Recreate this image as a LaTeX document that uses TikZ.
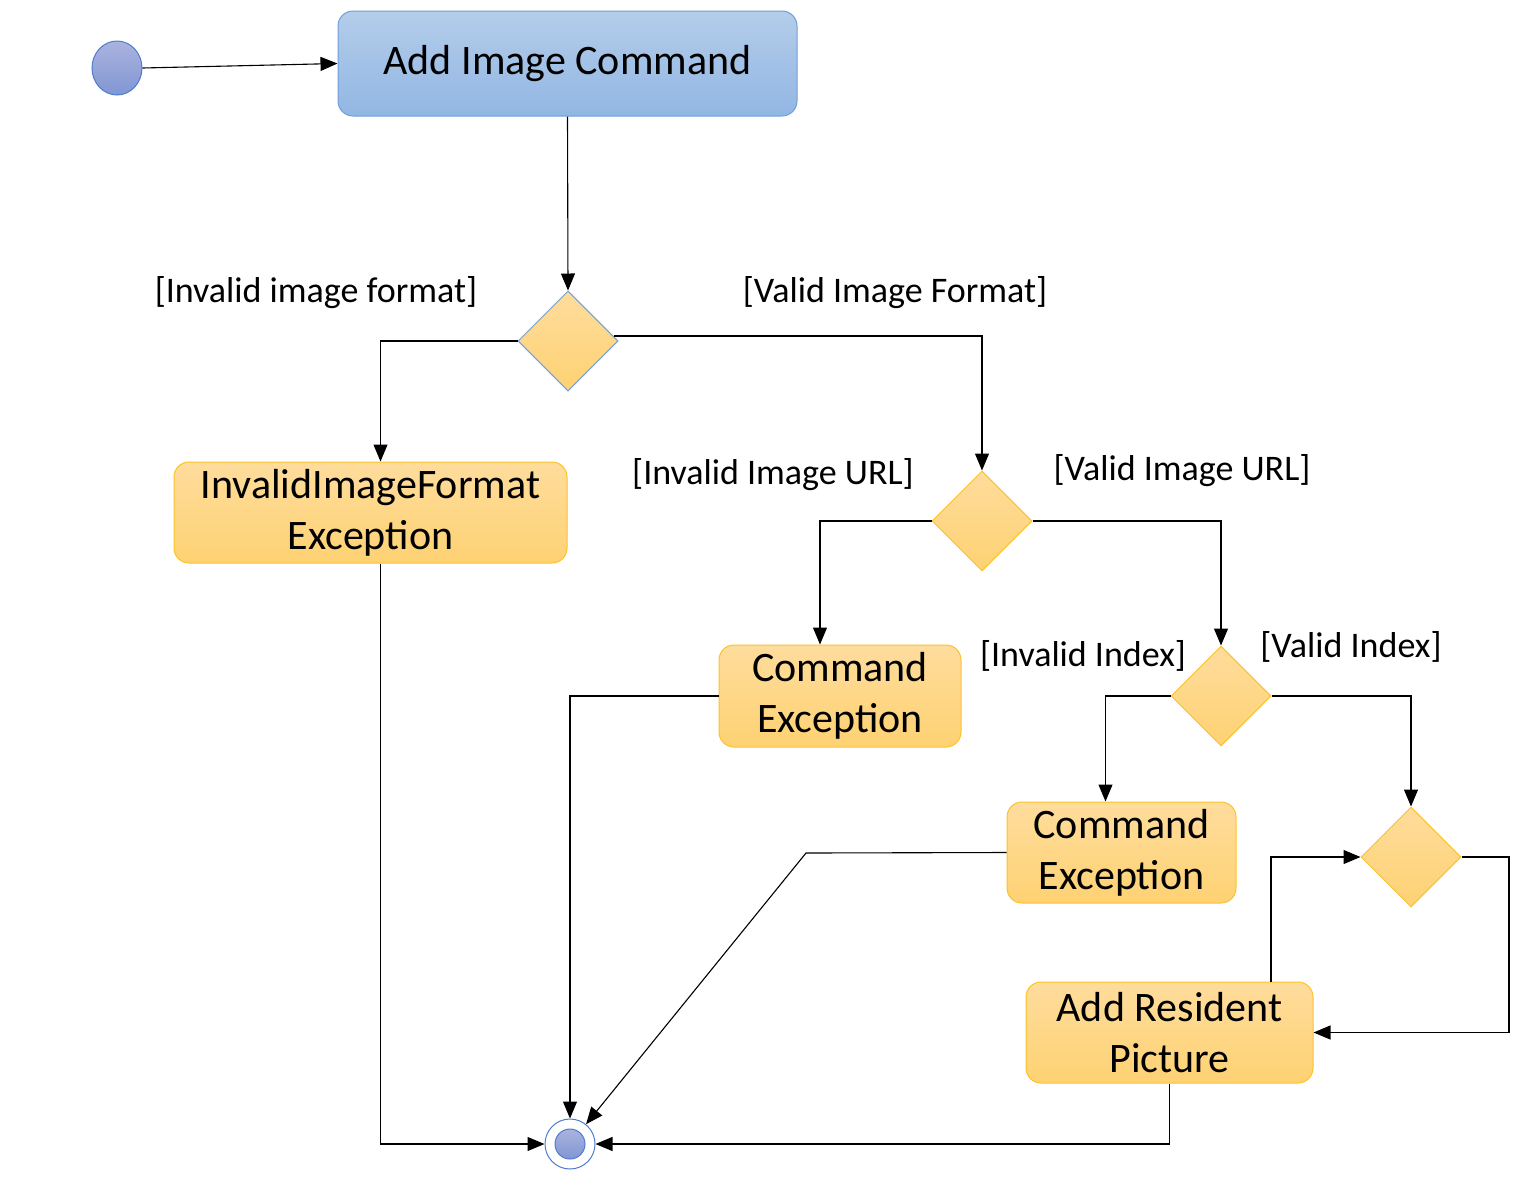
\documentclass[tikz,border=0pt]{standalone}
\usepackage{fontspec}
\setmainfont{Carlito}
\usetikzlibrary{shapes.geometric,arrows.meta,calc}
\definecolor{bluetop}{HTML}{B4CDEA}
\definecolor{bluebot}{HTML}{92B6E3}
\definecolor{blueedge}{HTML}{6FA0DC}
\definecolor{ortop}{HTML}{FEDC9C}
\definecolor{orbot}{HTML}{FED273}
\definecolor{oredge}{HTML}{FCC22A}
\definecolor{ctop}{HTML}{AAB3DE}
\definecolor{cbot}{HTML}{8196D3}
\definecolor{cedge}{HTML}{4F7CCF}
\tikzset{
  conn/.style={line width=1.1pt, draw=black},
  arr/.style={conn, -{Triangle[length=17pt,width=14pt]}},
  bluebox/.style={rectangle, rounded corners=15pt, draw=blueedge, line width=1pt,
    top color=bluetop, bottom color=bluebot, align=center, inner sep=0pt,
    font=\fontsize{42}{51}\selectfont},
  orbox/.style={rectangle, rounded corners=15pt, draw=oredge, line width=1pt,
    top color=ortop, bottom color=orbot, align=center, inner sep=0pt,
    font=\fontsize{42}{51}\selectfont},
  decision/.style={diamond, draw=oredge, line width=1pt, top color=ortop, bottom color=orbot,
    minimum width=100pt, minimum height=100pt, inner sep=0pt},
  guard/.style={font=\fontsize{36}{43}\selectfont, inner sep=0pt},
}
\begin{document}
\begin{tikzpicture}[x=1pt,y=-1pt]
\useasboundingbox (0,0) rectangle (1536,1184);
% start
\node[ellipse, draw=cedge, line width=1pt, top color=ctop, bottom color=cbot,
  minimum width=50pt, minimum height=54pt, inner sep=0pt] (start) at (117,68) {};
% activities
\node[bluebox, minimum width=459pt, minimum height=105pt] (cmd) at (567.5,63.5) {Add Image Command};
\node[orbox, minimum width=393pt, minimum height=101pt] (iif) at (370.5,512.5) {InvalidImageFormat\\Exception};
\node[orbox, minimum width=242pt, minimum height=102pt] (ce1) at (840,696) {Command\\Exception};
\node[orbox, minimum width=229pt, minimum height=101pt] (ce2) at (1121.5,852.5) {Command\\Exception};
\node[orbox, minimum width=287pt, minimum height=101pt] (arp) at (1169.5,1032.5) {Add Resident\\Picture};
% decisions
\node[decision, draw=blueedge] (d1) at (568,341) {};
\node[decision] (d2) at (982,521) {};
\node[decision] (d3) at (1221,696) {};
\node[decision] (d4) at (1411,857) {};
% end
\node[circle, draw=cedge, fill=white, line width=1pt, minimum size=50pt, inner sep=0pt] (endc) at (570,1144) {};
\node[circle, draw=cedge, line width=1pt, top color=ctop, bottom color=cbot, minimum size=30pt, inner sep=0pt] (endin) at (570,1144) {};
% guards
\node[guard] (g1) at (316,293) {[Invalid image format]};
\node[guard] (g2) at (895,293) {[Valid Image Format]};
\node[guard] (g3) at (773,475) {[Invalid Image URL]};
\node[guard] (g4) at (1182,471) {[Valid Image URL]};
\node[guard] (g5) at (1083,656) {[Invalid Index]};
\node[guard] (g6) at (1351,647) {[Valid Index]};
% helper coordinates
\coordinate (k1) at (806,853);
\coordinate (k2) at (1509,857);
% connectors
\draw[arr] (start.east) -- (cmd.west);
\draw[arr] (cmd.south) -- (d1.north);
\draw[arr] (d1.west) -| ([xshift=10pt]iif.north);
\draw[arr] ([shift={(-5pt,5pt)}]d1.east) -| (d2.north);
\draw[arr] ([xshift=10pt]iif.south) |- (endc.west);
\draw[arr] (d2.west) -| ([xshift=-20pt]ce1.north);
\draw[arr] (d2.east) -| (d3.north);
\draw[arr] (ce1.west) -| (endc.north);
\draw[arr] (d3.west) -| ([xshift=-16pt]ce2.north);
\draw[arr] (d3.east) -| (d4.north);
\draw[arr] (ce2.west) -- (k1) -- (endc);
\draw[arr] ([xshift=101.5pt]arp.north) |- (d4.west);
\draw[arr] (d4.east) -- (k2) |- (arp.east);
\draw[arr] (arp.south) |- (endc.east);
\end{tikzpicture}
\end{document}
